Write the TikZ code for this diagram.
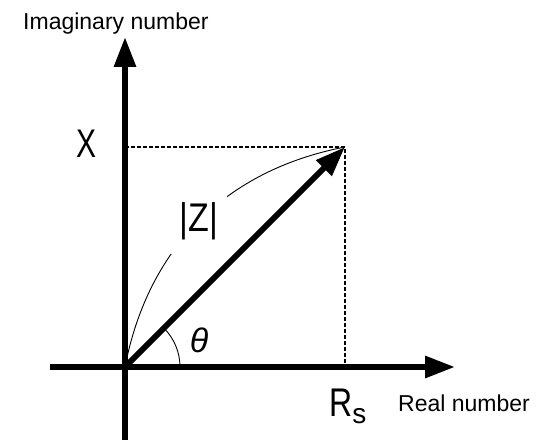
\documentclass[tikz,border=0pt]{standalone}
\usepackage{fontspec}
\usepackage{graphicx}
\setmainfont{Liberation Sans}
\usetikzlibrary{arrows.meta}
\tikzset{
  axis/.style={line width=6pt, -{Triangle[length=30pt,width=21pt]}},
  vec/.style={line width=6pt, -{Triangle[length=30pt,width=21pt]}},
  proj/.style={line width=1.3pt, dash pattern=on 4pt off 2pt},
  thinarc/.style={line width=0.9pt},
  biglabel/.style={font=\fontsize{40}{48}\selectfont, inner sep=0pt},
  smalllabel/.style={font=\fontsize{23}{28}\selectfont, inner sep=0pt}
}
\begin{document}
\begin{tikzpicture}[x=1pt,y=1pt]
\useasboundingbox (0,0) rectangle (543,446);
\coordinate (O) at (125,79);
\coordinate (vbot) at (125,6);
\coordinate (vtop) at (125,409);
\coordinate (hleft) at (50,79);
\coordinate (hright) at (455,79);
\coordinate (P) at (345,299);
\coordinate (xp) at (125,299);
\coordinate (rp) at (345,79);
% projections
\draw[proj] (xp) -- (P) -- (rp);
% axes
\draw[axis] (vbot) -- (vtop);
\draw[axis] (hleft) -- (hright);
% |Z| arc with label in a gap
\draw[thinarc] (O) to[bend left=34]
  node[pos=0.5, fill=white, font=\fontsize{40}{48}\selectfont, inner xsep=9pt, inner ysep=14pt] (zlab) {\scalebox{0.85}[1]{|Z|}} (P);
% vector
\draw[vec] (O) -- (P);
% angle arc
\coordinate (a0) at (180,79);
\draw[thinarc] (a0) arc[start angle=0, end angle=45, radius=55];
\node[inner sep=0pt, font=\fontsize{34}{40}\selectfont\itshape] (theta) at (199,106) {θ};
% labels
\node[biglabel] (X) at (87,302) {\scalebox{0.75}[1]{X}};
\node[biglabel, anchor=base west] (Rs) at (329,29) {\scalebox{0.8}[1]{R}\raisebox{-7pt}{\fontsize{28}{30}\selectfont s}};
\node[smalllabel, anchor=base west] (im) at (23,416) {Imaginary number};
\node[smalllabel, anchor=base west] (re) at (398,34) {Real number};
\end{tikzpicture}
\end{document}
